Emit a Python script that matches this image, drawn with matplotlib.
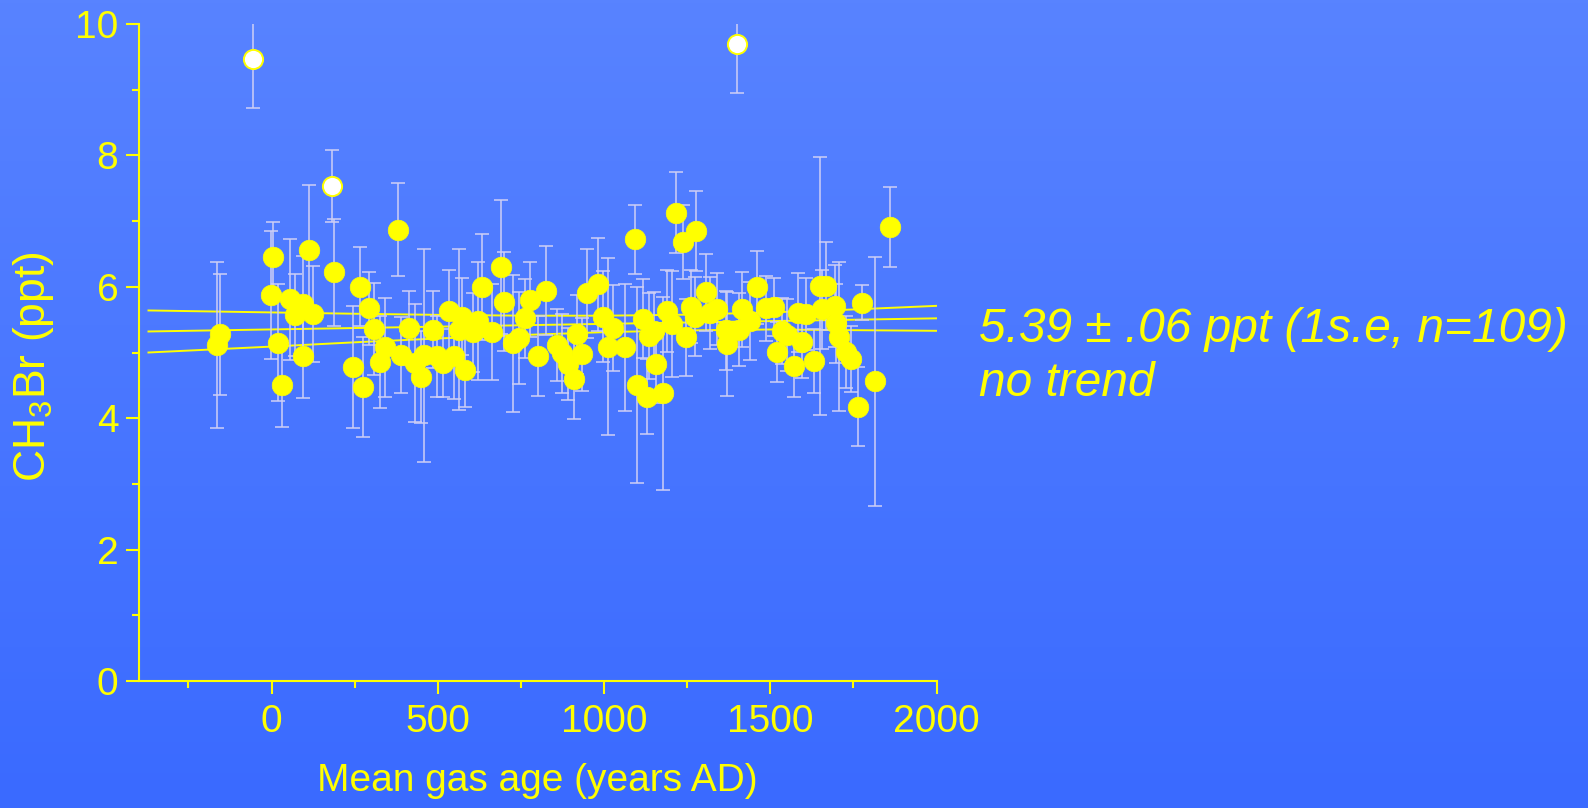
import matplotlib
matplotlib.use("Agg")
import matplotlib.pyplot as plt
import numpy as np

plt.rcParams['font.family'] = ['Liberation Sans', 'DejaVu Sans']
plt.rcParams['mathtext.default'] = 'regular'

# Données : âge moyen du gaz (années AD), CH3Br (ppt), erreur
age = [-164, -156, -2, 5, 20, 32, 57, 70, 94, 95, 114, 125, 188,
       244, 266, 276, 292, 309, 327, 341, 379, 390, 413, 432, 449, 460,
       487, 497, 515, 533, 550, 563, 573, 582, 605, 622, 632, 663, 691,
       700, 726, 743,
       763, 776, 803, 826, 858, 873, 893, 911, 920, 935, 948, 981, 996,
       1011, 1027, 1064, 1092, 1099, 1117, 1129, 1134, 1149, 1157, 1178,
       1188, 1205, 1218, 1237, 1247, 1262, 1275, 1277, 1308, 1320,
       1340, 1366, 1370, 1405, 1416, 1439, 1461, 1486, 1511, 1521, 1536,
       1549, 1571, 1583, 1594, 1609, 1631, 1651, 1655, 1667, 1694, 1697,
       1707, 1727, 1744, 1764, 1775, 1816, 1860]
ch3br = [5.11, 5.28, 5.875, 6.46, 5.15, 4.505, 5.81, 5.57, 4.95, 5.74, 6.56, 5.585, 6.22,
         4.78, 6.00, 4.48, 5.67, 5.36, 4.85, 5.08, 6.87, 4.96, 5.37, 4.84, 4.63, 4.96,
         5.35, 4.94, 4.84, 5.63, 4.94, 5.35, 5.545, 4.74, 5.31, 5.48, 6.00, 5.31, 6.30,
         5.775, 5.14, 5.22,
         5.52, 5.80, 4.95, 5.94, 5.11, 4.99, 4.82, 4.60, 5.28, 4.97, 5.90, 6.04, 5.545,
         5.09, 5.37, 5.08, 6.72, 4.50, 5.515, 4.33, 5.25, 5.32, 4.825, 4.38,
         5.635, 5.43, 7.13, 6.68, 5.23, 5.70, 5.545, 6.845, 5.915, 5.60,
         5.66, 5.34, 5.13, 5.35, 5.66, 5.48, 5.99, 5.67, 5.69, 5.01, 5.33,
         5.27, 4.80, 5.605, 5.165, 5.585, 4.875, 6.01, 5.66, 6.01, 5.71, 5.445,
         5.24, 5.01, 4.90, 4.175, 5.76, 4.56, 6.91]
err = [1.26, 0.92, 0.975, 0.52, 0.89, 0.645, 0.92, 0.63, 0.64, 0.73, 0.99, 0.73, 0.81,
       0.93, 0.60, 0.76, 0.56, 0.70, 0.70, 0.75, 0.71, 0.58, 0.56, 0.90, 0.70, 1.62,
       0.59, 0.62, 0.52, 0.63, 0.65, 1.23, 0.585, 0.57, 0.60, 0.90, 0.81, 0.73, 1.02,
       0.75, 1.04, 0.70,
       0.60, 0.57, 0.61, 0.68, 0.55, 0.60, 0.55, 0.61, 0.60, 0.55, 0.68, 0.71, 0.69,
       1.35, 0.65, 0.97, 0.525, 1.49, 0.60, 0.57, 0.65, 0.60, 0.60, 1.47,
       0.62, 0.81, 0.61, 0.56, 0.59, 0.55, 0.60, 0.61, 0.59, 0.55,
       0.55, 0.60, 0.79, 0.55, 0.57, 0.60, 0.55, 0.50, 0.44, 0.46, 0.50,
       0.55, 0.48, 0.60, 0.55, 0.55, 0.49, 1.96, 0.60, 0.67, 0.62, 0.60,
       1.13, 0.55, 0.50, 0.60, 0.26, 1.89, 0.61]

# Points exclus (en blanc)
age_out = [-55, 183, 1399]
ch3br_out = [9.46, 7.53, 9.70]
err_out = [0.74, 0.55, 0.75]

# Régression et bande de confiance
fit_x = [-370, 2000]
fit_y = [5.32, 5.52]
band_x = [-370, 0, 250, 500, 750, 1000, 1250, 1500, 1750, 2000]
band_hi = [5.64, 5.61, 5.59, 5.573, 5.561, 5.56, 5.576, 5.61, 5.655, 5.71]
band_lo = [5.00, 5.09, 5.155, 5.213, 5.265, 5.31, 5.336, 5.35, 5.34, 5.33]

jaune = "#ffff00"
barre = "#cfcff5"

fig = plt.figure(figsize=(15.88, 8.08), dpi=100)

# Fond dégradé bleu
bg = fig.add_axes([0, 0, 1, 1], zorder=-10)
haut = np.array([88, 131, 255]) / 255
bas = np.array([58, 106, 255]) / 255
t = np.linspace(0, 1, 256)[:, None]
grad = (haut[None, :] * (1 - t) + bas[None, :] * t)[:, None, :]
bg.imshow(grad, aspect="auto", extent=[0, 1, 0, 1])
bg.axis("off")

ax = fig.add_axes([138.5 / 1588, 1 - 681 / 808, 798 / 1588, 657 / 808])
ax.set_facecolor("none")

ax.plot(fit_x, fit_y, color=jaune, lw=1.4, zorder=1)
ax.plot(band_x, band_hi, color=jaune, lw=1.4, zorder=1)
ax.plot(band_x, band_lo, color=jaune, lw=1.4, zorder=1)

ax.errorbar(age, ch3br, yerr=err, fmt="none", ecolor=barre, elinewidth=1.1,
            capsize=4.7, capthick=1.1, zorder=2)
ax.errorbar(age_out, ch3br_out, yerr=err_out, fmt="none", ecolor=barre, elinewidth=1.1,
            capsize=4.7, capthick=1.1, zorder=2)
ax.plot(age, ch3br, "o", ms=14.8, mfc=jaune, mec=jaune, mew=0.5, ls="none", zorder=3)
ax.plot(age_out, ch3br_out, "o", ms=13.8, mfc="white", mec=jaune, mew=1.4, ls="none", zorder=3)

ax.set_xlim(-400, 2000)
ax.set_ylim(0, 10)
ax.set_xticks([0, 500, 1000, 1500, 2000])
ax.set_xticks([-250, 250, 750, 1250, 1750], minor=True)
ax.set_yticks([0, 2, 4, 6, 8, 10])
ax.set_yticks([1, 3, 5, 7, 9], minor=True)

for s in ["top", "right"]:
    ax.spines[s].set_visible(False)
for s in ["left", "bottom"]:
    ax.spines[s].set_color(jaune)
    ax.spines[s].set_linewidth(1.5)

ax.tick_params(which="both", direction="out", color=jaune, width=1.5, labelcolor=jaune)
ax.tick_params(which="major", length=9.5, labelsize=28)
ax.tick_params(which="minor", length=4.8)
ax.tick_params(axis="x", which="major", pad=7)
ax.tick_params(axis="y", which="major", pad=5)

ax.set_xlabel("Mean gas age (years AD)", color=jaune, fontsize=28)
ax.xaxis.set_label_coords(0.5, -0.125)
ax.set_ylabel("CH$_3$Br (ppt)", color=jaune, fontsize=32, va="center")
ax.yaxis.set_label_coords(-0.132, 0.479)

fig.text(979 / 1588, 1 - 342 / 808, "5.39 ± .06 ppt (1s.e, n=109)", color=jaune,
         fontsize=34.5, style="italic", va="baseline", ha="left")
fig.text(979 / 1588, 1 - 396 / 808, "no trend", color=jaune,
         fontsize=34.5, style="italic", va="baseline", ha="left")

fig.savefig("out.png", dpi=100)
